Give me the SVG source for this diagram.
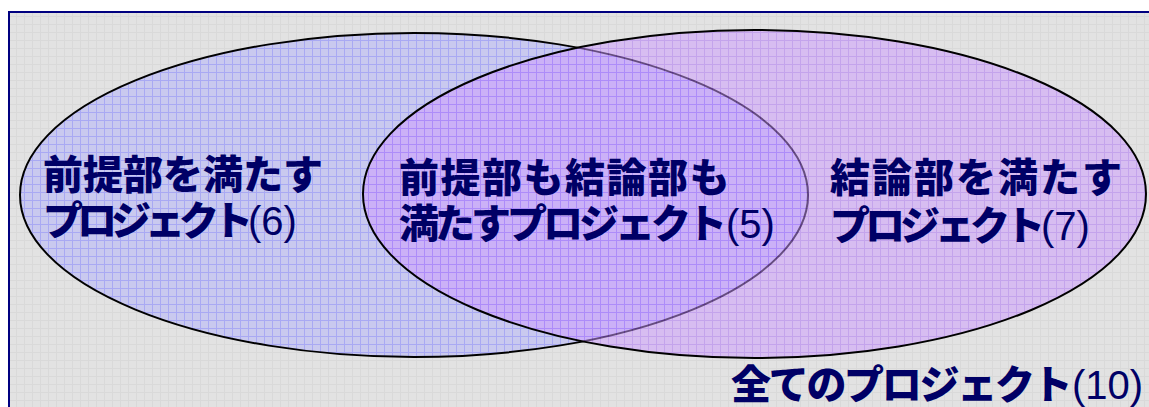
<svg xmlns="http://www.w3.org/2000/svg" width="1149" height="407" viewBox="0 0 1149 407">
<defs>
<pattern id="gridGray" patternUnits="userSpaceOnUse" width="8" height="8">
<rect width="8" height="8" fill="#e2e2e2"/>
<path d="M0 0.5H8M0.5 0V8" stroke="#d9d9d9" stroke-width="1"/>
</pattern>
<pattern id="gridBlue" patternUnits="userSpaceOnUse" width="8" height="8">
<rect width="8" height="8" fill="#c9c9ef"/>
<path d="M0 0.5H8M0.5 0V8" stroke="#a9a9f3" stroke-width="1"/>
</pattern>
<pattern id="gridPurple" patternUnits="userSpaceOnUse" width="8" height="8">
<rect width="8" height="8" fill="#cc99ff"/>
<path d="M0 0.5H8M0.5 0V8" stroke="#b070ff" stroke-width="1"/>
</pattern>
</defs>
<style>
.jp{font-family:"Noto Sans CJK JP","Noto Sans CJK SC",sans-serif;font-weight:900;font-size:40px;fill:#000066}
.num{font-family:"Liberation Sans",Arial,sans-serif;font-size:40px;fill:#000066}
.ell{stroke:#000;stroke-width:2}
</style>
<rect x="0" y="0" width="1149" height="407" fill="#ffffff"/>
<rect id="frame" x="9" y="12" width="1150" height="410" fill="url(#gridGray)" stroke="#000080" stroke-width="2"/>
<g id="premise-set">
<ellipse class="ell" cx="414" cy="195" rx="394" ry="162" fill="url(#gridBlue)"/>
</g>
<g id="conclusion-set">
<ellipse class="ell" cx="754.5" cy="194" rx="391.5" ry="164" fill="url(#gridPurple)" fill-opacity="0.5"/>
</g>
<g id="connectors"></g>
<g id="label-premise">
<text class="jp" x="43" y="189" letter-spacing="0">前提部を満たす</text>
<text class="jp" x="43" y="235" letter-spacing="-6">プロジェクト</text>
<text class="num" x="248" y="235">(6)</text>
</g>
<g id="label-both">
<text class="jp" x="399" y="192" letter-spacing="1.5">前提部も結論部も</text>
<text class="jp" x="399" y="238" letter-spacing="-4">満たすプロジェクト</text>
<text class="num" x="726" y="238">(5)</text>
</g>
<g id="label-conclusion">
<text class="jp" x="830" y="192" letter-spacing="2">結論部を満たす</text>
<text class="jp" x="830" y="240" letter-spacing="-5">プロジェクト</text>
<text class="num" x="1041" y="240">(7)</text>
</g>
<g id="label-all">
<text class="jp" x="731" y="399" letter-spacing="-2.3">全てのプロジェクト</text>
<text class="num" x="1072" y="399">(10)</text>
</g>
</svg>
